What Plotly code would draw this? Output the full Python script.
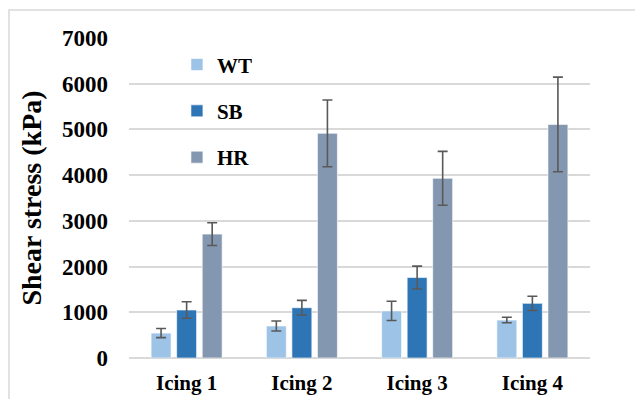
import plotly.graph_objects as go

categories = ["Icing 1", "Icing 2", "Icing 3", "Icing 4"]
wt_values = [545, 700, 1030, 830]
wt_errors = [100, 110, 210, 60]
sb_values = [1050, 1100, 1760, 1195]
sb_errors = [180, 160, 250, 155]
hr_values = [2710, 4915, 3930, 5110]
hr_errors = [250, 730, 590, 1035]
y_ticks = [0, 1000, 2000, 3000, 4000, 5000, 6000, 7000]

series = [
    ("WT", wt_values, wt_errors, "#9DC3E6"),
    ("SB", sb_values, sb_errors, "#2E75B6"),
    ("HR", hr_values, hr_errors, "#8497B0"),
]

FONT = "Liberation Serif"

fig = go.Figure()
for i, (name, vals, errs, color) in enumerate(series):
    fig.add_trace(go.Bar(
        x=categories, y=vals, name=name,
        legendgroup=name,
        marker=dict(color=color, line=dict(color="rgba(255,255,255,0.6)", width=1)),
        error_y=dict(type="data", array=errs, visible=True,
                     color="#595959", thickness=1.6, width=5),
    ))

fig.update_layout(
    width=643, height=399,
    margin=dict(l=121, r=61, t=30, b=49),
    paper_bgcolor="white", plot_bgcolor="white",
    barmode="group", bargap=0.335, bargroupgap=0.22,
    font=dict(family=FONT, color="black"),
    legend=dict(
        x=0.104, y=0.98, xanchor="left", yanchor="top",
        font=dict(family=FONT, size=21, color="black", weight="bold"),
        tracegroupgap=16, traceorder="grouped",
        bgcolor="rgba(0,0,0,0)", itemwidth=30,
    ),
    showlegend=True,
    xaxis=dict(
        showgrid=False, showline=False, ticks="",
        tickfont=dict(family=FONT, size=21, color="black", weight="bold"),
        ticklabelstandoff=10,
    ),
    yaxis=dict(
        range=[0, 7000], tickvals=y_ticks, ticktext=[str(v) for v in y_ticks],
        showgrid=True, gridcolor="#D9D9D9", gridwidth=1.5,
        zeroline=True, zerolinecolor="#D9D9D9", zerolinewidth=1.5,
        tickfont=dict(family=FONT, size=23, color="black", weight="bold"),
        ticklabelstandoff=20,
        title=dict(text="Shear stress (kPa)", standoff=12,
                   font=dict(family=FONT, size=28, color="black", weight="bold")),
    ),
    shapes=[dict(type="rect", xref="paper", yref="paper",
                 x0=-0.2603, x1=1.3, y0=-0.3, y1=1.0875,
                 line=dict(color="#D9D9D9", width=1.5), fillcolor="rgba(0,0,0,0)",
                 layer="below")],
)

fig.write_html("out.html")
